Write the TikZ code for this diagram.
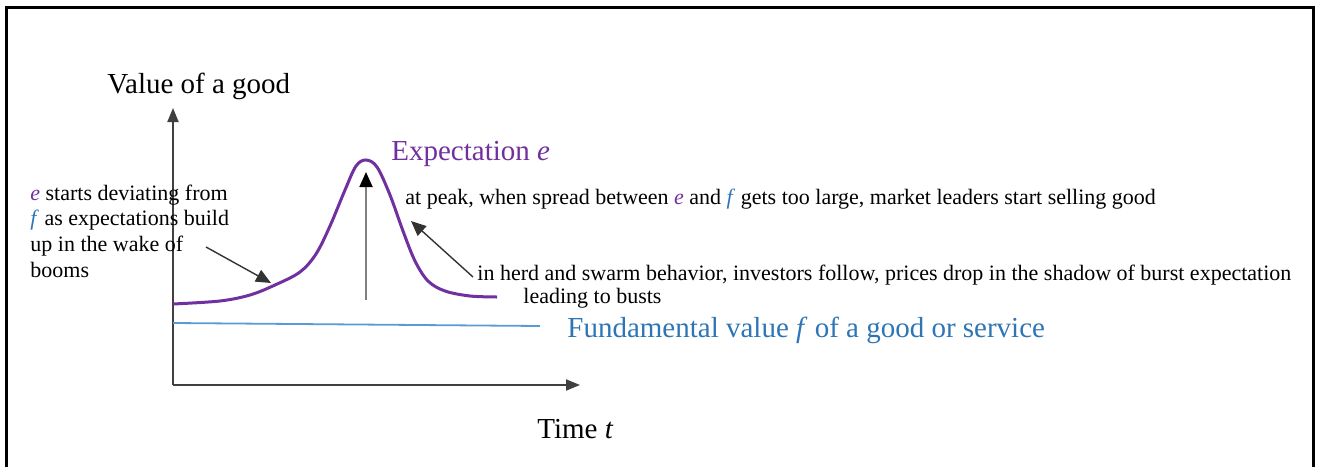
\documentclass[tikz,border=0pt]{standalone}
\usepackage{fontspec}
\setmainfont{Liberation Serif}
\usetikzlibrary{arrows.meta}
\definecolor{exppurple}{HTML}{7030A0}
\definecolor{fundblue}{HTML}{2E75B6}
\definecolor{fundline}{HTML}{5B9BD5}
\definecolor{axisgray}{HTML}{404040}
\newcommand{\ev}{\textcolor{exppurple}{\textit{e}}}
\newcommand{\fv}{\textcolor{fundblue}{\textit{f}}}
\begin{document}
\begin{tikzpicture}[x=0.5pt,y=-0.5pt,
  biglabel/.style={anchor=base west, inner sep=0pt, font=\fontsize{14.5}{17}\selectfont},
  note/.style={anchor=base west, inner sep=0pt, font=\fontsize{11}{12.8}\selectfont},
  axisline/.style={draw=axisgray, line width=1pt, -{Triangle[length=7pt,width=5.5pt]}},
  pointer/.style={draw=black!80, line width=0.7pt, -{Triangle[length=7.5pt,width=6.5pt]}},
  peakline/.style={draw=gray, line width=0.9pt, -{Triangle[length=7.5pt,width=6.5pt,color=black]}}]
\useasboundingbox (0,0) rectangle (1317,466);
% frame
\draw[line width=1.5pt] (6,480) -- (6,7) -- (1313,7) -- (1313,480);
% axes
\coordinate (O) at (173,385);
\coordinate (ytip) at (173,108);
\coordinate (xtip) at (580,385);
\draw[axisline] (O) -- (ytip);
\draw[axisline] (O) -- (xtip);
% fundamental value
\coordinate (f0) at (173,323);
\coordinate (f1) at (540,326);
\draw[fundline, line width=0.9pt] (f0) -- (f1);
% expectation curve
\draw[exppurple, line width=1.5pt] plot[smooth, tension=0.55] coordinates {
  (173,304) (220,301) (250,295) (275,285) (300,272) (316,254) (330,226)
  (345,190) (356,166) (366,160) (377,167) (390,195) (403,231) (415,261)
  (428,281) (445,291) (470,296) (497,297)};
% labels
\node[biglabel] (ylab) at (107,93) {Value of a good};
\node[biglabel, text=exppurple] (elab) at (391,160) {Expectation \textit{e}};
\node[biglabel, text=fundblue] (flab) at (567,337) {Fundamental value \textit{f} of a good or service};
\node[biglabel] (tlab) at (537,438) {Time \textit{t}};
\node[note, align=left] (boom) at (30,277) {\ev{} starts deviating from\\\fv{} as expectations build\\up in the wake of\\booms};
\node[note] (peak) at (405,204) {at peak, when spread between \ev{} and \fv{} gets too large, market leaders start selling good};
\node[note] (herd) at (477,280) {in herd and swarm behavior, investors follow, prices drop in the shadow of burst expectation};
\node[note] (bust) at (523,303) {leading to busts};
% pointers
\coordinate (b0) at (206,247);
\coordinate (b1) at (271,283);
\draw[pointer] (b0) -- (b1);
\coordinate (h0) at (473,277);
\coordinate (h1) at (411,221);
\draw[pointer] (h0) -- (h1);
\coordinate (p0) at (366,300);
\coordinate (p1) at (366,172);
\draw[peakline] (p0) -- (p1);
\end{tikzpicture}
\end{document}
